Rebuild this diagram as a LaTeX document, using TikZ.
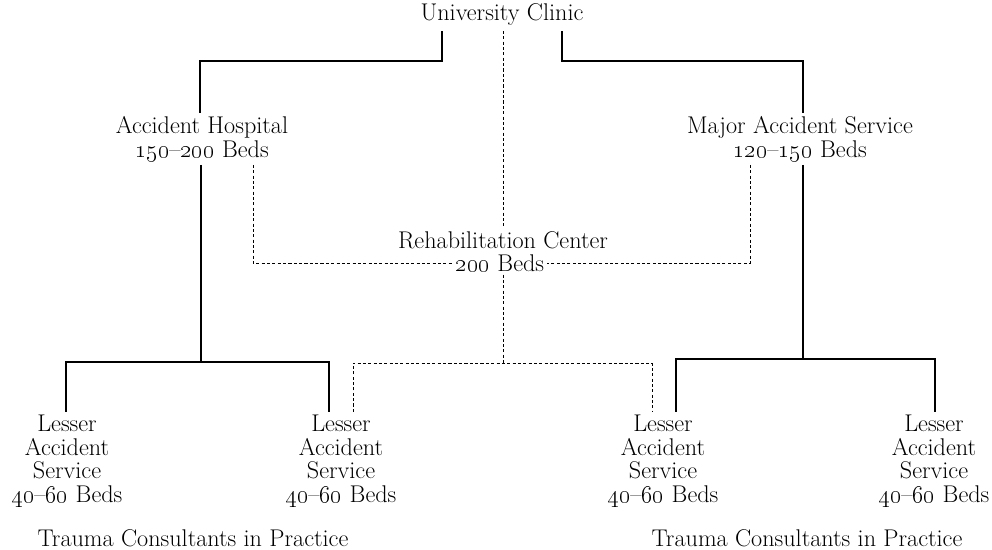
\documentclass[tikz,border=0pt]{standalone}
\usetikzlibrary{calc}
\begin{document}
\begin{tikzpicture}[x=0.025cm,y=-0.025cm,
  lbl/.style={align=center,inner sep=2pt,font=\fontsize{17.2}{16.8}\selectfont},
  solidln/.style={line width=1.2pt},
  dashln/.style={line width=0.7pt,dash pattern=on 2.2pt off 1.6pt}]
\useasboundingbox (0,0) rectangle (992,549);
% nodes
\node[lbl] (uc) at (502,14) {University Clinic};
\node[lbl] (ah) at (202,139) {Accident Hospital\\\oldstylenums{150}--\oldstylenums{200} Beds};
\node[lbl] (mas) at (800,139) {Major Accident Service\\\oldstylenums{120}--\oldstylenums{150} Beds};
\node[lbl] (rcA) at (503,240) {Rehabilitation Center};
\node[lbl] (rcB) at (500,263) {\oldstylenums{200} Beds};
\node[lbl] (las1) at (67,461) {Lesser\\Accident\\Service\\\oldstylenums{40}--\oldstylenums{60} Beds};
\node[lbl] (las2) at (341,461) {Lesser\\Accident\\Service\\\oldstylenums{40}--\oldstylenums{60} Beds};
\node[lbl] (las3) at (663,461) {Lesser\\Accident\\Service\\\oldstylenums{40}--\oldstylenums{60} Beds};
\node[lbl] (las4) at (934,461) {Lesser\\Accident\\Service\\\oldstylenums{40}--\oldstylenums{60} Beds};
\node[lbl] (tc1) at (193,538) {Trauma Consultants in Practice};
\node[lbl] (tc2) at (807,538) {Trauma Consultants in Practice};
% junctions
\coordinate (jl) at (201,362);
\coordinate (jr) at (803,359);
\coordinate (jm) at (503,363);
% solid connectors from clinic
\draw[solidln] ($(uc.south)+(-60,3)$) -- ++(0,30) -| ($(ah.north)+(-2,0)$);
\draw[solidln] ($(uc.south)+(60,3)$) -- ++(0,30) -| ($(mas.north)+(3,0)$);
% central dashed
\draw[dashln] ($(uc.south)+(1,3)$) -- (rcA.north);
\draw[dashln] ($(ah.south)+(51,0)$) |- (rcB.west);
\draw[dashln] ($(mas.south)+(-50,0)$) |- (rcB.east);
\draw[dashln] (rcB.south -| jm) -- (jm);
\draw[dashln] ($(las2.north)+(12,0)$) |- (jm) -| ($(las3.north)+(-11,0)$);
% left group
\draw[solidln] (ah.south -| jl) -- (jl);
\draw[solidln] ($(las1.north)+(-1,0)$) |- (jl) -| ($(las2.north)+(-12,0)$);
% right group
\draw[solidln] (mas.south -| jr) -- (jr);
\draw[solidln] ($(las3.north)+(13,0)$) |- (jr) -| ($(las4.north)+(1,0)$);
\end{tikzpicture}
\end{document}
